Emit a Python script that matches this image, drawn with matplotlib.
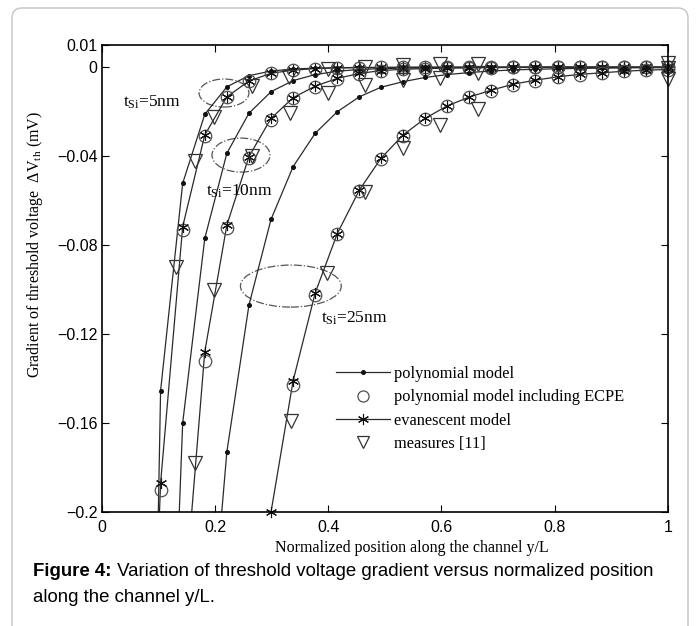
import numpy as np
import matplotlib
matplotlib.use('Agg')
import matplotlib.pyplot as plt
from matplotlib.lines import Line2D
from matplotlib.patches import Ellipse, FancyBboxPatch
from matplotlib.transforms import IdentityTransform

plt.rcParams['font.family'] = ['Liberation Serif', 'DejaVu Serif']
plt.rcParams['mathtext.fontset'] = 'custom'
plt.rcParams['mathtext.rm'] = 'Liberation Serif'
plt.rcParams['mathtext.it'] = 'Liberation Serif:italic'

nan = np.nan

# common position grid along the channel (first point only extends lines below the axis)
pos = [0.065, 0.104, 0.143, 0.182, 0.221, 0.26, 0.299, 0.338, 0.377, 0.416, 0.455, 0.493,
       0.532, 0.571, 0.61, 0.649, 0.688, 0.727, 0.766, 0.805, 0.844, 0.883, 0.922, 0.961, 1.0]

poly_5 = [-0.68, -0.1455, -0.0522, -0.0212, -0.0088, -0.0038, -0.0017, -0.0008, -0.0004, -0.0002,
          -0.0001, -0.0001, 0, 0, 0, 0, 0, 0, 0, 0, 0, 0, 0, 0, 0]
evan_5 = [-0.45, -0.187, -0.0717, -0.0305, -0.0133, -0.0062, -0.0027, -0.0013, -0.0006, -0.0003,
          -0.0002, -0.0001, -0.0001, 0, 0, 0, 0, 0, 0, 0, 0, 0, 0, 0, 0]
ecpe_5 = [nan, -0.19, -0.073, -0.031, -0.0135, -0.0063, -0.0028, -0.0013, -0.0007, -0.0004,
          -0.0002, -0.0001, -0.0001, 0, 0, 0, 0, 0, 0, 0, 0, 0, 0, 0, 0]

poly_10 = [nan, -0.42, -0.16, -0.077, -0.0387, -0.0207, -0.011, -0.006, -0.0033, -0.0018,
           -0.001, -0.0006, -0.0004, -0.0002, -0.0001, -0.0001, 0, 0, 0, 0, 0, 0, 0, 0, 0]
evan_10 = [nan, nan, -0.25, -0.128, -0.071, -0.0402, -0.023, -0.0137, -0.0085, -0.005,
           -0.0028, -0.0015, -0.0009, -0.0006, -0.0004, -0.0003, -0.0002, -0.0001, -0.0001,
           0, 0, 0, 0, 0, 0]
ecpe_10 = [nan, nan, nan, -0.132, -0.0725, -0.041, -0.0235, -0.014, -0.0087, -0.0052,
           -0.0029, -0.0016, -0.001, -0.0006, -0.0004, -0.0003, -0.0002, -0.0001, -0.0001,
           0, 0, 0, 0, 0, 0]

poly_25 = [nan, nan, nan, -0.29, -0.173, -0.107, -0.0684, -0.0447, -0.0297, -0.02, -0.0133,
           -0.009, -0.0065, -0.0046, -0.0033, -0.0024, -0.0017, -0.0012, -0.0009, -0.0007,
           -0.0005, -0.0004, -0.0003, -0.0002, -0.0002]
evan_25 = [nan, nan, nan, nan, nan, -0.27, -0.2, -0.141, -0.1015, -0.0748, -0.0552, -0.041,
           -0.0305, -0.023, -0.0174, -0.0134, -0.0103, -0.0076, -0.0058, -0.0043, -0.0032,
           -0.0025, -0.0018, -0.0013, -0.001]
ecpe_25 = [nan, nan, nan, nan, nan, nan, nan, -0.143, -0.1025, -0.0752, -0.0555, -0.0412,
           -0.0307, -0.0232, -0.0176, -0.0136, -0.0105, -0.0078, -0.006, -0.0045, -0.0034,
           -0.0026, -0.0019, -0.0014, -0.0011]

# measures [11]
meas_x_5 = [0.132, 0.165, 0.199, 0.265, 0.33, 0.4, 0.465, 0.532, 0.598, 0.665, 1.0]
meas_y_5 = [-0.09, -0.0422, -0.0223, -0.0083, -0.0043, -0.0006, 0.0003, 0.001, 0.0013, 0.0013, 0.0018]
meas_x_10 = [0.165, 0.199, 0.265, 0.332, 0.4, 0.465, 0.532, 0.598, 0.665, 1.0]
meas_y_10 = [-0.178, -0.1, -0.04, -0.0207, -0.0117, -0.008, -0.0058, -0.005, -0.0027, -0.0005]
meas_x_25 = [0.334, 0.398, 0.465, 0.532, 0.598, 0.665, 1.0]
meas_y_25 = [-0.159, -0.0927, -0.056, -0.0365, -0.026, -0.0186, -0.0055]

y_ticks = [0.01, 0, -0.04, -0.08, -0.12, -0.16, -0.2]
y_tick_labels = ['0.01', '0', '\u22120.04', '\u22120.08', '\u22120.12', '\u22120.16', '\u22120.2']
x_ticks = [0, 0.2, 0.4, 0.6, 0.8, 1]
x_tick_labels = ['0', '0.2', '0.4', '0.6', '0.8', '1']

star = (6, 2, 0)
line_col = '#2a2a2a'

fig = plt.figure(figsize=(6.96, 6.26), dpi=100)
ax = fig.add_axes([0.1461, 0.1821, 0.8137, 0.7460])

x = np.array(pos)
for poly, evan, ecpe in [(poly_5, evan_5, ecpe_5), (poly_10, evan_10, ecpe_10),
                         (poly_25, evan_25, ecpe_25)]:
    p = np.array(poly, dtype=float)
    e = np.array(evan, dtype=float)
    c = np.array(ecpe, dtype=float)
    ax.plot(x, p, '-', color=line_col, lw=0.9)
    ax.plot(x, e, '-', color=line_col, lw=0.9)
    ok = p >= -0.2
    ax.plot(x[ok], p[ok], 'o', ms=2.6, color='#111111', clip_on=False)
    ok = c >= -0.2
    ax.plot(x[ok], c[ok], 'o', ms=9, mfc='none', mec='#505050', mew=0.9, clip_on=False)
    ok = e >= -0.2001
    ax.plot(x[ok], e[ok], ls='none', marker=star, ms=8, color='#111111', mew=0.8, clip_on=False)

for mx, my in [(meas_x_5, meas_y_5), (meas_x_10, meas_y_10), (meas_x_25, meas_y_25)]:
    ax.plot(mx, my, 'v', ms=10, mfc='none', mec='#333333', mew=0.9, clip_on=False)

# dash-dot ellipses marking each thickness
for cx, cy, w, h in [(0.216, -0.0116, 0.088, 0.0126), (0.246, -0.0395, 0.1024, 0.0153),
                     (0.334, -0.0984, 0.178, 0.0189)]:
    ax.add_patch(Ellipse((cx, cy), w, h, fill=False, ls='-.', lw=0.9, ec='#555555'))

ax.text(0.038, -0.0157, 't$_{\\rm Si}$=5nm', fontsize=12.5, va='center', ha='left')
ax.text(0.185, -0.056, 't$_{\\rm Si}$=10nm', fontsize=12.5, va='center', ha='left')
ax.text(0.388, -0.113, 't$_{\\rm Si}$=25nm', fontsize=12.5, va='center', ha='left')

ax.set_xlim(0, 1)
ax.set_ylim(-0.2, 0.01)
ax.set_xticks(x_ticks)
ax.set_xticklabels(x_tick_labels, family='Liberation Sans', fontsize=11.5)
ax.set_yticks(y_ticks)
ax.set_yticklabels(y_tick_labels, family='Liberation Sans', fontsize=11.5)
ax.tick_params(direction='in', length=5, width=0.8, top=True, right=True, pad=3)
ax.tick_params(axis='x', pad=6)
for s in ax.spines.values():
    s.set_linewidth(1.2)

handles = [
    Line2D([], [], color=line_col, lw=0.9, marker='o', ms=2.6, mfc='#111111', mec='#111111'),
    Line2D([], [], ls='none', marker='o', ms=8, mfc='none', mec='#505050', mew=0.9),
    Line2D([], [], color=line_col, lw=0.9, marker=star, ms=8, mec='#111111', mew=0.8),
    Line2D([], [], ls='none', marker='v', ms=9, mfc='none', mec='#333333', mew=0.9),
]
labels = ['polynomial model', 'polynomial model including ECPE', 'evanescent model', 'measures [11]']
ax.legend(handles, labels, loc='upper left', bbox_to_anchor=(0.40, 0.33), frameon=False,
          fontsize=11.8, handlelength=3.3, handletextpad=0.2, labelspacing=0.45, borderpad=0)

fig.text(35 / 696, 1 - 245 / 626, 'Gradient of threshold voltage  $\\Delta$V$_{\\rm th}$ (mV)',
         rotation=90, ha='center', va='center', fontsize=11.5)
fig.text(412 / 696, 1 - 548 / 626, 'Normalized position along the channel y/L',
         ha='center', va='center', fontsize=11.5)

cap = fig.text(33 / 696, 1 - 572 / 626, 'Figure 4:', fontsize=13.4, fontweight='bold',
               va='center', ha='left', family='Liberation Sans')
ax.annotate(' Variation of threshold voltage gradient versus normalized position',
            xy=(1, 0.5), xycoords=cap, va='center', ha='left', fontsize=13.4,
            family='Liberation Sans', annotation_clip=False)
fig.text(33 / 696, 1 - 597 / 626, 'along the channel y/L.', fontsize=13.4, va='center', ha='left',
         family='Liberation Sans')

fig.patches.append(FancyBboxPatch((12, -30), 676, 648, boxstyle='round,pad=0,rounding_size=10',
                                  transform=IdentityTransform(), fill=False, ec='#c4c4c4', lw=1.0))

fig.savefig('out.png', dpi=100)
